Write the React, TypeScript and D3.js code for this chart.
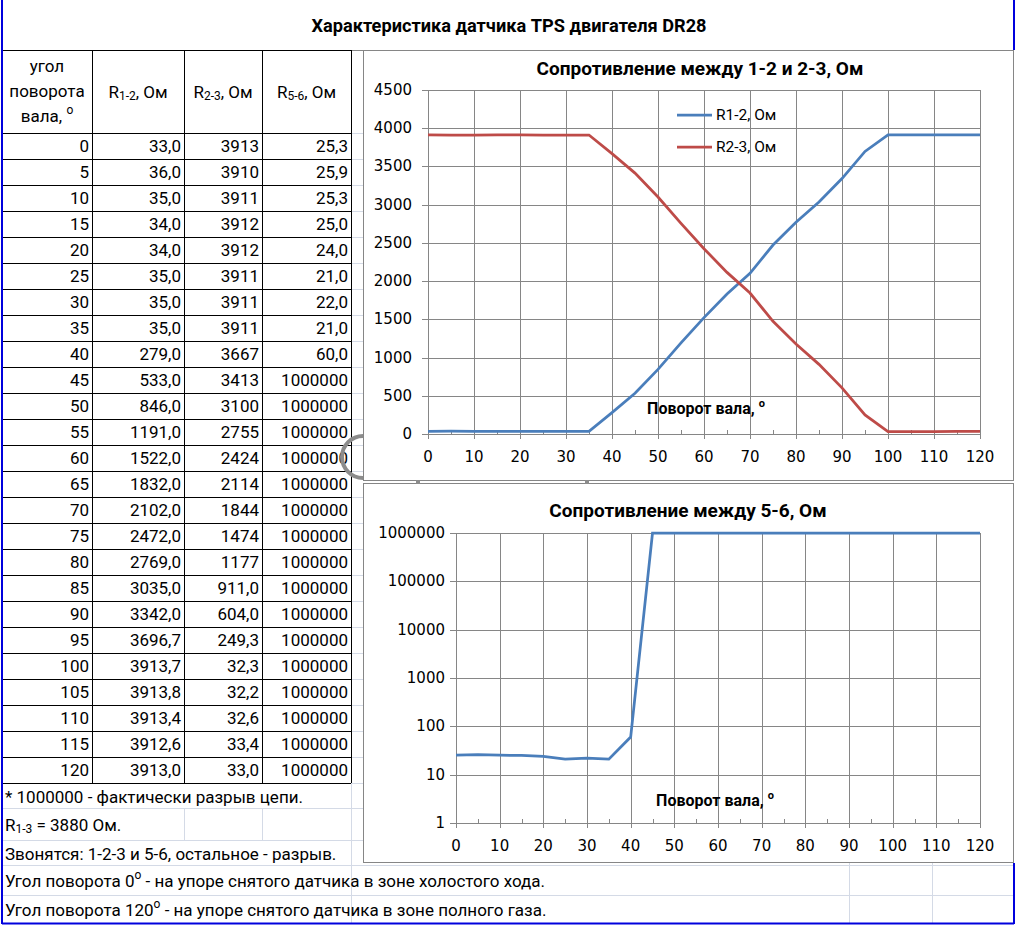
// TPS sensor sheet: table on the left, two Excel-like charts on the right
import * as d3 from "d3";

const angles = [0, 5, 10, 15, 20, 25, 30, 35, 40, 45, 50, 55, 60, 65, 70, 75, 80, 85, 90, 95, 100, 105, 110, 115, 120];
const r12 = [33.0, 36.0, 35.0, 34.0, 34.0, 35.0, 35.0, 35.0, 279.0, 533.0, 846.0, 1191.0, 1522.0, 1832.0, 2102.0, 2472.0, 2769.0, 3035.0, 3342.0, 3696.7, 3913.7, 3913.8, 3913.4, 3912.6, 3913.0];
const r23 = [3913, 3910, 3911, 3912, 3912, 3911, 3911, 3911, 3667, 3413, 3100, 2755, 2424, 2114, 1844, 1474, 1177, 911.0, 604.0, 249.3, 32.3, 32.2, 32.6, 33.4, 33.0];
const r56 = [25.3, 25.9, 25.3, 25.0, 24.0, 21.0, 22.0, 21.0, 60.0, 1000000, 1000000, 1000000, 1000000, 1000000, 1000000, 1000000, 1000000, 1000000, 1000000, 1000000, 1000000, 1000000, 1000000, 1000000, 1000000];

const xTicks = [0, 10, 20, 30, 40, 50, 60, 70, 80, 90, 100, 110, 120];
const xMinor = [5, 15, 25, 35, 45, 55, 65, 75, 85, 95, 105, 115];
const yTicks1 = [0, 500, 1000, 1500, 2000, 2500, 3000, 3500, 4000, 4500];
const yTicks2 = [1, 10, 100, 1000, 10000, 100000, 1000000];

const title = "Характеристика датчика TPS двигателя DR28";
const chart1Title = "Сопротивление между 1-2 и 2-3, Ом";
const chart2Title = "Сопротивление между 5-6, Ом";
const legendNames = ["R1-2, Ом", "R2-3, Ом"];
const notes = [
  "* 1000000 - фактически разрыв цепи.",
  "R1-3 = 3880 Ом.",
  "Звонятся: 1-2-3 и 5-6, остальное - разрыв.",
  "Угол поворота 0° - на упоре снятого датчика в зоне холостого хода.",
  "Угол поворота 120° - на упоре снятого датчика в зоне полного газа.",
];

const BLUE = "#4a7ebb";
const RED = "#be4b48";
const GRID = "#868686";
const SHEET = "#d4dae6";
const FONT = "Roboto, 'Noto Sans', sans-serif";
const NARROW = "'Liberation Sans Narrow', 'Arial Narrow', Roboto, sans-serif";

const comma = (v: number) => v.toFixed(1).replace(".", ",");
const fmtBig = (v: number) => (v >= 1000 ? String(Math.round(v)) : comma(v));

function AxisTitle({ x, y }: { x: number; y: number }) {
  return (
    <text x={x} y={y} fontFamily={NARROW} fontWeight="bold" fontSize={16} textAnchor="middle" dominantBaseline="central">
      Поворот вала,{" "}
      <tspan fontSize={11} dy={-5}>o</tspan>
    </text>
  );
}

export default function App() {
  // table geometry
  const colX = [2, 92, 184, 262, 351];
  const rowY = d3.scaleLinear().domain([0, 25]).range([133, 783]);
  const noteY = [783, 808, 840, 865, 895, 923];

  // chart 1
  const x1 = d3.scaleLinear().domain([0, 120]).range([428, 980]);
  const y1 = d3.scaleLinear().domain([0, 4500]).range([434, 90]);
  const line1 = d3.line<number>().x((_, i) => x1(angles[i])).y((d) => y1(d));

  // chart 2
  const x2 = d3.scaleLinear().domain([0, 120]).range([456, 980]);
  const y2 = d3.scaleLog().domain([1, 1000000]).range([823, 533]);
  const line2 = d3.line<number>().x((_, i) => x2(angles[i])).y((d) => y2(d));

  const cells = [r12.map(comma), r23.map(fmtBig), r56.map(fmtBig)];

  return (
    <div style={{ position: "absolute", left: 0, top: 0 }}>
      <svg width={1015} height={925} style={{ display: "block" }} fontFamily={FONT}>
        <rect width={1015} height={925} fill="#fff" />

        {/* faint sheet gridlines */}
        <g stroke={SHEET} strokeWidth={1}>
          {d3.range(0, 26).map((i) => (
            <line key={"sg" + i} x1={351} x2={363} y1={rowY(i) + 0.5} y2={rowY(i) + 0.5} />
          ))}
          <line x1={351.5} x2={351.5} y1={50} y2={923} />
          {noteY.slice(1, 5).map((y, i) => (
            <line key={"nh" + i} x1={2} x2={1014} y1={y + 0.5} y2={y + 0.5} />
          ))}
          <line x1={184.5} x2={184.5} y1={808} y2={840} />
          <line x1={262.5} x2={262.5} y1={808} y2={840} />
          <line x1={849.5} x2={849.5} y1={863} y2={923} />
          <line x1={932.5} x2={932.5} y1={863} y2={923} />
        </g>

        {/* title row */}
        <line x1={2} x2={1014} y1={50.5} y2={50.5} stroke={GRID} />
        <text x={509} y={25} textAnchor="middle" dominantBaseline="central" fontWeight="bold" fontSize={18.2}>
          {title}
        </text>

        {/* table */}
        <g stroke="#000" strokeWidth={1}>
          <line x1={2} x2={351} y1={50.5} y2={50.5} />
          {d3.range(0, 26).map((i) => (
            <line key={"rh" + i} x1={2} x2={351} y1={rowY(i) + 0.5} y2={rowY(i) + 0.5} />
          ))}
          {colX.slice(1).map((x, i) => (
            <line key={"cv" + i} x1={x + 0.5} x2={x + 0.5} y1={50} y2={783} />
          ))}
        </g>
        <g fontSize={17} textAnchor="middle" dominantBaseline="central">
          <text x={47} y={66}>угол</text>
          <text x={47} y={91}>поворота</text>
          <text x={47} y={116}>
            вала, <tspan fontSize={12} dy={-6}>o</tspan>
          </text>
          {["1-2", "2-3", "5-6"].map((s, i) => (
            <text key={"h" + i} x={(colX[i + 1] + colX[i + 2]) / 2} y={92}>
              R<tspan fontSize={12} dy={4}>{s}</tspan>
              <tspan dy={-4}>, Ом</tspan>
            </text>
          ))}
        </g>
        <g fontSize={17} textAnchor="end" dominantBaseline="central">
          {angles.map((a, i) => (
            <g key={"r" + i}>
              <text x={colX[1] - 3} y={rowY(i) + 13}>{a}</text>
              {cells.map((col, c) => (
                <text key={c} x={colX[c + 2] - 3} y={rowY(i) + 13}>{col[i]}</text>
              ))}
            </g>
          ))}
        </g>
        <g fontSize={17} dominantBaseline="central">
          {notes.map((n, i) => (
            <text key={"n" + i} x={5} y={(noteY[i] + noteY[i + 1]) / 2 + 1}>
              {i === 1 ? (
                <>
                  R<tspan fontSize={12} dy={4}>1-3</tspan>
                  <tspan dy={-4}> = 3880 Ом.</tspan>
                </>
              ) : i >= 3 ? (
                <>
                  {n.split("°")[0]}
                  <tspan fontSize={12} dy={-6}>o</tspan>
                  <tspan dy={6}>{n.split("°")[1]}</tspan>
                </>
              ) : (
                n
              )}
            </text>
          ))}
        </g>

        {/* chart 1 */}
        <rect x={363.5} y={50.5} width={650} height={430} fill="#fff" stroke={GRID} />
        <text x={700} y={68} textAnchor="middle" dominantBaseline="central" fontWeight="bold" fontSize={19}>
          {chart1Title}
        </text>
        <g stroke={GRID} strokeWidth={1}>
          {yTicks1.map((t) => (
            <line key={"g1y" + t} x1={422} x2={980} y1={Math.round(y1(t)) + 0.5} y2={Math.round(y1(t)) + 0.5} />
          ))}
          {xTicks.map((t) => (
            <line key={"g1x" + t} x1={Math.round(x1(t)) + 0.5} x2={Math.round(x1(t)) + 0.5} y1={90} y2={439} />
          ))}
          {xMinor.map((t) => (
            <line key={"m1x" + t} x1={Math.round(x1(t)) + 0.5} x2={Math.round(x1(t)) + 0.5} y1={430} y2={434} />
          ))}
        </g>
        <g fontSize={15} fontFamily="'DejaVu Sans', sans-serif" dominantBaseline="central">
          {yTicks1.map((t) => (
            <text key={"l1y" + t} x={412} y={y1(t)} textAnchor="end">{t}</text>
          ))}
          {xTicks.map((t) => (
            <text key={"l1x" + t} x={x1(t)} y={457} textAnchor="middle">{t}</text>
          ))}
        </g>
        <path d={line1(r12) ?? ""} fill="none" stroke={BLUE} strokeWidth={2.75} />
        <path d={line1(r23) ?? ""} fill="none" stroke={RED} strokeWidth={2.75} />
        {legendNames.map((n, i) => (
          <g key={"lg" + i}>
            <line x1={677} x2={712} y1={115 + i * 32} y2={115 + i * 32} stroke={i ? RED : BLUE} strokeWidth={2.75} />
            <text x={716} y={115 + i * 32} dominantBaseline="central" fontSize={15.5}>{n}</text>
          </g>
        ))}
        <AxisTitle x={706} y={408} />

        {/* chart 2 */}
        <rect x={363.5} y={483.5} width={650} height={379} fill="#fff" stroke={GRID} />
        <text x={688} y={510} textAnchor="middle" dominantBaseline="central" fontWeight="bold" fontSize={19}>
          {chart2Title}
        </text>
        <g stroke={GRID} strokeWidth={1}>
          {yTicks2.map((t) => (
            <line key={"g2y" + t} x1={450} x2={980} y1={Math.round(y2(t)) + 0.5} y2={Math.round(y2(t)) + 0.5} />
          ))}
          {xTicks.map((t) => (
            <line key={"g2x" + t} x1={Math.round(x2(t)) + 0.5} x2={Math.round(x2(t)) + 0.5} y1={533} y2={828} />
          ))}
          {xMinor.map((t) => (
            <line key={"m2x" + t} x1={Math.round(x2(t)) + 0.5} x2={Math.round(x2(t)) + 0.5} y1={819} y2={823} />
          ))}
        </g>
        <g fontSize={15} fontFamily="'DejaVu Sans', sans-serif" dominantBaseline="central">
          {yTicks2.map((t) => (
            <text key={"l2y" + t} x={445} y={y2(t)} textAnchor="end">{t}</text>
          ))}
          {xTicks.map((t) => (
            <text key={"l2x" + t} x={x2(t)} y={846} textAnchor="middle">{t}</text>
          ))}
        </g>
        <path d={line2(r56) ?? ""} fill="none" stroke={BLUE} strokeWidth={2.75} />
        <AxisTitle x={715} y={800} />

        {/* selection handles */}
        <path d="M 363 436 A 21 21 0 0 0 363 478" fill="none" stroke="#8c8c8c" strokeWidth={4} />
        <rect x={416} y={480} width={4} height={4} fill="#8c8c8c" />
        <rect x={585} y={480} width={4} height={4} fill="#8c8c8c" />

        {/* outer blue selection border */}
        <g stroke="#0000dd" strokeWidth={2}>
          <line x1={2} x2={2} y1={0} y2={924} />
          <line x1={1014} x2={1014} y1={0} y2={50} />
          <line x1={1014} x2={1014} y1={863} y2={924} />
          <line x1={2} x2={1014} y1={923.5} y2={923.5} />
        </g>
      </svg>
    </div>
  );
}
